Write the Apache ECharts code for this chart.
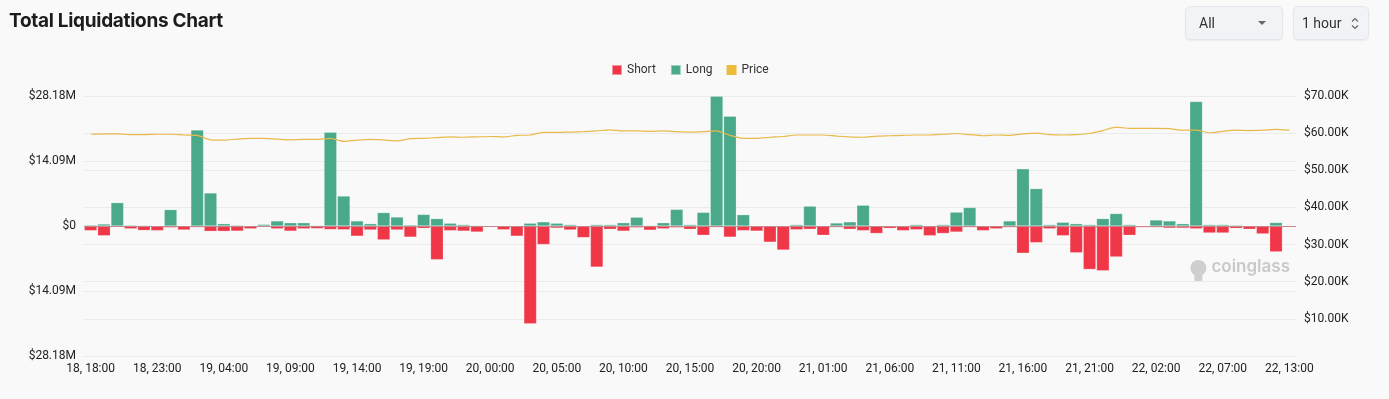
<!DOCTYPE html>
<html>
<head>
<meta charset="utf-8">
<script src="https://cdn.jsdelivr.net/npm/echarts@6/dist/echarts.min.js"></script>
<style>
  html, body { margin: 0; padding: 0; background: #f9f9f9; }
  .wrap { position: relative; width: 1389px; height: 399px; overflow: hidden; }
  #chart { position: absolute; left: 0; top: 0; width: 1389px; height: 399px; }
  .title {
    position: absolute; left: 9px; top: 9px; z-index: 2;
    font-family: Inter, "Noto Sans", sans-serif; font-weight: 700; font-size: 19px;
    color: #1c1c1c; letter-spacing: -0.3px;
  }
  .sel {
    position: absolute; top: 6px; height: 34px; z-index: 2; box-sizing: border-box;
    background: #f1f3f6; border: 1px solid #e3e6ea; border-radius: 5px;
    box-shadow: 0 1px 2px rgba(0,0,0,0.06);
    font-family: Roboto, "Noto Sans", sans-serif; font-size: 14px; color: #333;
    line-height: 32px;
  }
  .sel.all { left: 1185px; width: 98px; padding-left: 13px; }
  .sel.all .caret {
    position: absolute; right: 16px; top: 14px; width: 0; height: 0;
    border-left: 4px solid transparent; border-right: 4px solid transparent; border-top: 4px solid #666;
  }
  .sel.hour { left: 1293px; width: 76px; padding-left: 8px; }
</style>
</head>
<body>
<div class="wrap">
  <div class="title">Total Liquidations Chart</div>
  <div class="sel all">All<span class="caret"></span></div>
  <div class="sel hour">1 hour
    <svg style="position:absolute;right:9px;top:10px" width="8" height="13" viewBox="0 0 8 13">
      <polyline points="1,4.5 4,1.5 7,4.5" fill="none" stroke="#666" stroke-width="1.2"/>
      <polyline points="1,8.5 4,11.5 7,8.5" fill="none" stroke="#666" stroke-width="1.2"/>
    </svg>
  </div>
  <div id="chart"></div>
</div>
<script>
// hourly buckets, 18 18:00 -> 22 11:00, plus the current (still empty) 22 13:00 slot
const categories = []
for (let h = 0; h < 90; h++) {
  const t = 18 * 24 + 18 + h
  const day = Math.floor(t / 24)
  const hr = t % 24
  categories.push(`${day}, ${String(hr).padStart(2, '0')}:00`)
}
categories.push('22, 13:00')

// liquidation amounts in $M
const longVals = [
  0.22, 0.43, 5.06, 0.2, 0.15, 0.05, 3.55, 0.1, 20.8, 7.16,
  0.5, 0.2, 0.1, 0.35, 1.1, 0.7, 0.7, 0.15, 20.3, 6.5,
  1.1, 0.5, 2.9, 1.95, 0.25, 2.5, 1.6, 0.6, 0.3, 0.15,
  0.05, 0.05, 0.05, 0.6, 0.9, 0.6, 0.3, 0.1, 0.3, 0.3,
  0.7, 1.9, 0.15, 0.7, 3.6, 0.3, 2.95, 28.1, 23.8, 2.45,
  0.1, 0.1, 0.1, 0.3, 4.3, 0.1, 0.65, 0.9, 4.5, 0.1,
  0.05, 0.1, 0.3, 0.1, 0.3, 3.0, 4.0, 0.1, 0.1, 1.1,
  12.4, 8.1, 0.3, 0.8, 0.5, 0.3, 1.6, 2.7, 0.3, 0.1,
  1.3, 1.1, 0.5, 27.0, 0.3, 0.3, 0.2, 0.1, 0.05, 0.75,
  null
]
const shortVals = [
  1.0, 2.1, 0.1, 0.6, 0.95, 1.0, 0.35, 0.85, 0.3, 1.15,
  1.15, 1.1, 0.6, 0.15, 0.6, 1.1, 0.6, 0.55, 0.75, 0.8,
  2.2, 0.85, 3.0, 0.85, 2.4, 0.5, 7.3, 1.0, 1.1, 1.3,
  0.15, 0.8, 2.2, 21.2, 4.0, 0.45, 0.85, 2.5, 8.9, 0.7,
  1.1, 0.35, 0.9, 0.6, 0.35, 0.7, 2.0, 0.3, 2.4, 1.0,
  1.1, 3.5, 5.2, 0.8, 0.7, 2.0, 0.3, 0.7, 1.0, 1.6,
  0.5, 1.0, 0.8, 2.1, 1.6, 1.3, 0.3, 1.0, 0.6, 0.3,
  5.9, 3.6, 0.6, 2.1, 5.8, 9.4, 9.7, 6.7, 2.0, 0.3,
  0.3, 0.45, 0.45, 0.6, 1.5, 1.5, 0.5, 0.7, 1.7, 5.6,
  null
]
// BTC price in $K
const priceVals = [
  59.7, 59.8, 59.8, 59.6, 59.6, 59.7, 59.7, 59.5, 59.4, 58.2,
  58.1, 58.4, 58.6, 58.6, 58.4, 58.2, 58.3, 58.3, 58.6, 57.8,
  58.1, 58.3, 58.2, 57.9, 58.5, 58.6, 58.8, 59.0, 58.9, 59.0,
  59.1, 59.0, 59.4, 59.5, 60.2, 60.2, 60.3, 60.4, 60.6, 60.9,
  60.6, 60.6, 60.5, 60.6, 60.4, 60.3, 60.4, 60.6, 59.4, 58.6,
  58.6, 58.9, 59.1, 59.5, 59.5, 59.5, 59.2, 59.0, 58.9, 59.2,
  59.3, 59.4, 59.5, 59.5, 59.7, 59.9, 59.6, 59.3, 59.5, 59.4,
  59.8, 60.0, 59.6, 59.5, 59.6, 59.9, 60.7, 61.6, 61.3, 61.3,
  61.3, 61.2, 60.8, 60.8, 60.1, 60.5, 60.8, 60.7, 60.8, 61.0,
  60.8
]

const liqMax = 28.18e6
const liqStep = 14.09e6

const chart = echarts.init(document.getElementById('chart'))
const labelFont = { fontFamily: 'Roboto, "Noto Sans", sans-serif', fontSize: 12, color: '#222' }

chart.setOption({
  backgroundColor: 'transparent',
  animation: false,
  legend: {
    top: 64,
    left: 611,
    padding: 0,
    icon: 'rect',
    itemWidth: 10,
    itemHeight: 10,
    itemGap: 14,
    textStyle: { ...labelFont, color: '#333' },
    data: ['Short', 'Long', 'Price'],
  },
  grid: { left: 84, right: 93, top: 96, bottom: 43 },
  xAxis: {
    type: 'category',
    data: categories,
    axisLine: { show: false },
    axisTick: { show: false },
    axisLabel: { ...labelFont, interval: 4, margin: 7 },
  },
  yAxis: [
    {
      type: 'value',
      min: -liqMax,
      max: liqMax,
      interval: liqStep,
      axisLine: { show: false },
      axisTick: { show: false },
      splitLine: { lineStyle: { color: '#ebebeb' } },
      axisLabel: {
        ...labelFont,
        margin: 8,
        formatter: (v) => (Math.abs(v) < 1 ? '$0' : '$' + (Math.abs(v) / 1e6).toFixed(2) + 'M'),
      },
    },
    {
      type: 'value',
      min: 0,
      max: 70000,
      interval: 10000,
      position: 'right',
      axisLine: { show: false },
      axisTick: { show: false },
      splitLine: { lineStyle: { color: '#ebebeb' } },
      axisLabel: {
        ...labelFont,
        margin: 8,
        formatter: (v) => (v === 0 ? '' : '$' + (v / 1000).toFixed(2) + 'K'),
      },
    },
  ],
  graphic: [
    {
      type: 'group',
      right: 99,
      top: 258,
      children: [
        { type: 'circle', shape: { cx: 10, cy: 10, r: 8 }, style: { fill: '#cfcfcf' } },
        { type: 'rect', shape: { x: 6, y: 14, width: 8, height: 10, r: 3 }, style: { fill: '#cfcfcf' } },
        {
          type: 'text', left: 23, top: 0,
          style: { text: 'coinglass', fill: '#c9c9c9', font: '600 17px Inter, "Noto Sans", sans-serif' },
        },
      ],
    },
  ],
  series: [
    {
      name: 'Short',
      type: 'bar',
      stack: 'liq',
      barCategoryGap: '5%',
      itemStyle: { color: '#ef3748', borderColor: 'rgba(255,255,255,0.45)', borderWidth: 0.5 },
      data: shortVals.map((v) => (v == null ? null : -v * 1e6)),
      markLine: {
        silent: true,
        symbol: 'none',
        label: { show: false },
        lineStyle: { color: '#c9868d', width: 1, type: 'solid' },
        data: [{ yAxis: 0 }],
      },
    },
    {
      name: 'Long',
      type: 'bar',
      stack: 'liq',
      barCategoryGap: '5%',
      itemStyle: { color: '#4aa98b', borderColor: 'rgba(255,255,255,0.45)', borderWidth: 0.5 },
      data: longVals.map((v) => (v == null ? null : v * 1e6)),
    },
    {
      name: 'Price',
      type: 'line',
      yAxisIndex: 1,
      showSymbol: false,
      smooth: 0.2,
      itemStyle: { color: '#ecbb3c' },
      lineStyle: { color: '#e9b949', width: 1.2 },
      data: priceVals.map((v) => v * 1000),
    },
  ],
})
</script>
</body>
</html>
